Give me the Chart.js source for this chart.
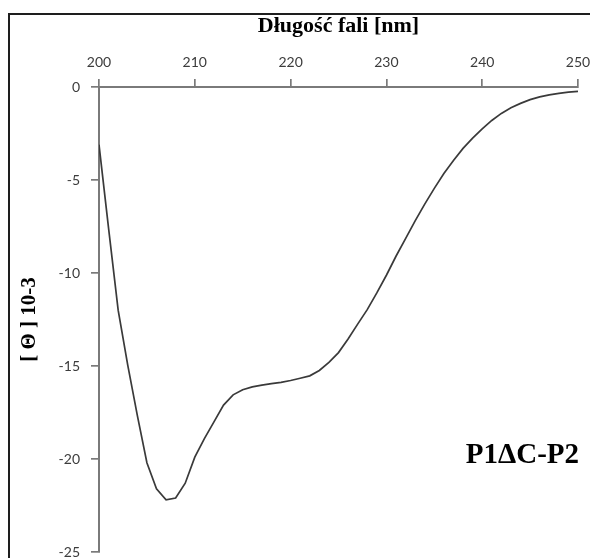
<!DOCTYPE html>
<html>
<head>
<meta charset="utf-8">
<script src="https://cdn.jsdelivr.net/npm/chart.js@4.4.1/dist/chart.umd.min.js"></script>
<style>
  html, body { margin: 0; padding: 0; background: #ffffff; }
  #wrap { width: 590px; height: 558px; position: relative; }
  canvas { display: block; }
</style>
</head>
<body>
<div id="wrap"><canvas id="cd" width="590" height="558"></canvas></div>
<script>
// CD spectrum of P1ΔC-P2: mean residue ellipticity (×10^-3) vs wavelength
const wavelengths = [
  200, 201, 202, 203, 204, 205, 206, 207, 208, 209,
  210, 211, 212, 213, 214, 215, 216, 217, 218, 219,
  220, 221, 222, 223, 224, 225, 226, 227, 228, 229,
  230, 231, 232, 233, 234, 235, 236, 237, 238, 239,
  240, 241, 242, 243, 244, 245, 246, 247, 248, 249,
  250
];
const ellipticity = [
  -3.1, -7.6, -12.0, -14.95, -17.65, -20.2, -21.6, -22.2, -22.1, -21.3,
  -19.9, -18.9, -18.0, -17.1, -16.55, -16.28, -16.12, -16.03, -15.95, -15.88,
  -15.78, -15.66, -15.53, -15.24, -14.8, -14.28, -13.55, -12.75, -11.97, -11.07,
  -10.12, -9.1, -8.15, -7.2, -6.3, -5.45, -4.65, -3.95, -3.3, -2.75,
  -2.25, -1.8, -1.42, -1.12, -0.88, -0.68, -0.53, -0.42, -0.34, -0.28,
  -0.24
];
const xTickValues = [200, 210, 220, 230, 240, 250];
const yTickValues = [0, -5, -10, -15, -20, -25];
const xTitle = 'Długość fali [nm]';
const yTitle = '[ Θ ] 10-3';
const sampleLabel = 'P1ΔC-P2';

const points = wavelengths.map((w, i) => ({ x: w, y: ellipticity[i] }));

const axisGrey = '#7a7a7a';
const tickFont = { family: 'Lato, "Open Sans", sans-serif', size: 14 };

// Outer frame (left and top edges) and the sample name inside the plot
const decorations = {
  id: 'decorations',
  beforeDraw(chart) {
    const ctx = chart.ctx;
    ctx.save();
    ctx.strokeStyle = '#1e1e1e';
    ctx.lineWidth = 2;
    ctx.beginPath();
    ctx.moveTo(9, chart.height);
    ctx.lineTo(9, 14);
    ctx.lineTo(chart.width, 14);
    ctx.stroke();
    ctx.restore();
  },
  afterDraw(chart) {
    const { ctx, chartArea, scales } = chart;
    ctx.save();
    ctx.font = 'bold 29px "Liberation Serif", "Times New Roman", serif';
    ctx.fillStyle = '#000000';
    ctx.textAlign = 'right';
    ctx.textBaseline = 'middle';
    ctx.fillText(sampleLabel, chartArea.right + 1, scales.y.getPixelForValue(-19.8));
    ctx.restore();
  }
};

new Chart(document.getElementById('cd'), {
  type: 'line',
  data: {
    datasets: [{
      data: points,
      borderColor: '#3a3a3a',
      borderWidth: 1.7,
      pointRadius: 0,
      tension: 0,
      fill: false
    }]
  },
  options: {
    responsive: false,
    animation: false,
    devicePixelRatio: 1,
    layout: { padding: { left: 0, top: 0, right: 12, bottom: 6 } },
    plugins: {
      legend: { display: false },
      tooltip: { enabled: false }
    },
    scales: {
      x: {
        type: 'linear',
        position: 'top',
        min: 200,
        max: 250,
        afterBuildTicks(scale) { scale.ticks = xTickValues.map(v => ({ value: v })); },
        afterFit(scale) {
          scale.height = 87;
          scale.paddingLeft = 0;
          scale.paddingRight = 0;
        },
        ticks: { color: '#3c3c3c', font: tickFont, padding: 8, maxRotation: 0 },
        grid: { drawOnChartArea: false, drawTicks: true, tickLength: 8, color: axisGrey, lineWidth: 1.7 },
        border: { display: true, color: axisGrey, width: 2 },
        title: {
          display: true,
          text: xTitle,
          color: '#000000',
          font: { family: '"Liberation Serif", "Times New Roman", serif', size: 22, weight: 'bold' },
          padding: { top: 13, bottom: 0 }
        }
      },
      y: {
        type: 'linear',
        position: 'left',
        min: -25,
        max: 0,
        afterBuildTicks(scale) { scale.ticks = yTickValues.map(v => ({ value: v })); },
        afterFit(scale) {
          scale.width = 99;
          scale.paddingTop = 0;
          scale.paddingBottom = 0;
        },
        ticks: { color: '#3c3c3c', font: tickFont, padding: 11 },
        grid: { drawOnChartArea: false, drawTicks: true, tickLength: 8, color: axisGrey, lineWidth: 1.7 },
        border: { display: true, color: axisGrey, width: 2 },
        title: {
          display: true,
          text: yTitle,
          color: '#000000',
          font: { family: '"Liberation Serif", "Times New Roman", serif', size: 21, weight: 'bold' },
          padding: { top: 17, bottom: 0 }
        }
      }
    }
  },
  plugins: [decorations]
});
</script>
</body>
</html>
